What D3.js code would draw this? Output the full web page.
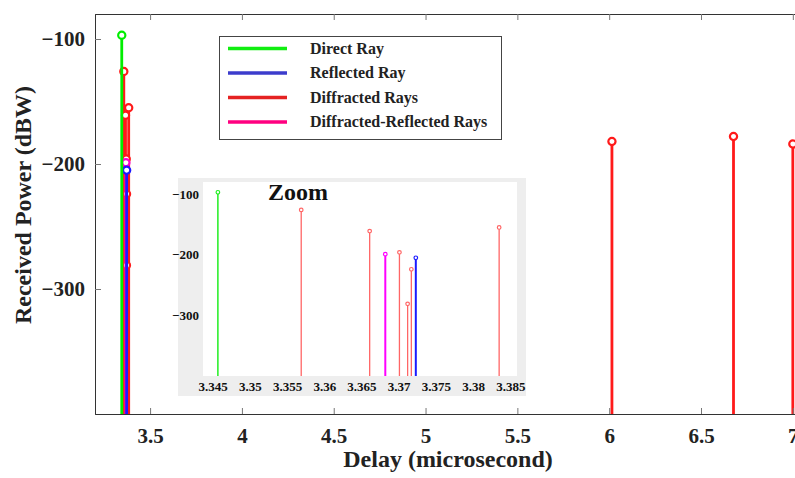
<!DOCTYPE html>
<html>
<head>
<meta charset="utf-8">
<script src="https://cdn.jsdelivr.net/npm/d3@7"></script>
<style>
  body { margin: 0; background: #fff; }
  svg { display: block; font-family: "Liberation Serif", "Times New Roman", serif; }
  .bold { font-weight: bold; }
</style>
</head>
<body>
<script>
// ray data: delay (microsecond) and received power (dBW)
var directDelay = [3.3457]
var directPower = [-97]

var reflectedDelay = [3.3723]
var reflectedPower = [-205]

var diffractedDelay = [3.3569, 3.3661, 3.3701, 3.3712, 3.3717, 3.3835, 6.015, 6.677, 7.0]
var diffractedPower = [-126, -161, -196, -281, -224, -155, -182, -178, -184]

var diffReflDelay = [3.3682]
var diffReflPower = [-199]

var xTicks = [3.5, 4, 4.5, 5, 5.5, 6, 6.5, 7]
var yTicks = [-100, -200, -300]
var zoomXTicks = [3.345, 3.35, 3.355, 3.36, 3.365, 3.37, 3.375, 3.38, 3.385]
var zoomYTicks = [-100, -200, -300]

var legendNames = ["Direct Ray", "Reflected Ray", "Diffracted Rays", "Diffracted-Reflected Rays"]

var series = [
  {name: "Diffracted Rays", delay: diffractedDelay, power: diffractedPower, color: "#ff1a1a", zcolor: "#ff6666", zw: 1.3},
  {name: "Diffracted-Reflected Rays", delay: diffReflDelay, power: diffReflPower, color: "#ff00cc", zcolor: "#ff00ff", zw: 2},
  {name: "Reflected Ray", delay: reflectedDelay, power: reflectedPower, color: "#1a1aff", zcolor: "#1a1aff", zw: 2},
  {name: "Direct Ray", delay: directDelay, power: directPower, color: "#00ee00", zcolor: "#22ee22", zw: 1.5}
]
var legendColors = {"Direct Ray": "#11ee11", "Reflected Ray": "#3c3ccc", "Diffracted Rays": "#e52222", "Diffracted-Reflected Rays": "#ff0080"}

var W = 795, H = 478
var margin = {top: 14, left: 95, bottom: 64}
var plotW = 707, plotH = H - margin.top - margin.bottom

var svg = d3.select("body").append("svg")
    .attr("width", W)
    .attr("height", H)

var x = d3.scaleLinear().domain([3.2, 7.05]).range([margin.left, margin.left + plotW])
var y = d3.scaleLinear().domain([-400, -80]).range([margin.top + plotH, margin.top])

// stems of the main plot
var main = svg.append("g")
series.forEach(function(s) {
  var pts = s.delay.map(function(d, i) { return {d: d, p: s.power[i]} })
  main.selectAll(null).data(pts).enter().append("line")
      .attr("x1", function(d) { return x(d.d) })
      .attr("x2", function(d) { return x(d.d) })
      .attr("y1", y(-400))
      .attr("y2", function(d) { return y(d.p) })
      .attr("stroke", s.color)
      .attr("stroke-width", 2.8)
  main.selectAll(null).data(pts).enter().append("circle")
      .attr("cx", function(d) { return x(d.d) })
      .attr("cy", function(d) { return y(d.p) })
      .attr("r", 3.6)
      .attr("fill", "#fff")
      .attr("stroke", s.color)
      .attr("stroke-width", 2.2)
})

// axes (box with inward ticks)
var axisColor = "#333"
var gx = svg.append("g").attr("transform", "translate(0," + y(-400) + ")")
    .call(d3.axisBottom(x).tickValues(xTicks).tickSize(-6).tickPadding(14).tickFormat(d3.format("")))
var gxt = svg.append("g").attr("transform", "translate(0," + y(-80) + ")")
    .call(d3.axisTop(x).tickValues(xTicks).tickSize(-6).tickFormat(""))
var gy = svg.append("g").attr("transform", "translate(" + x(3.2) + ",0)")
    .call(d3.axisLeft(y).tickValues(yTicks).tickSize(-6).tickPadding(10))
var gyr = svg.append("g").attr("transform", "translate(" + x(7.05) + ",0)")
    .call(d3.axisRight(y).tickValues(yTicks).tickSize(-6).tickFormat(""))
;[gx, gxt, gy, gyr].forEach(function(g) {
  g.select(".domain").attr("stroke", axisColor)
  g.selectAll(".tick line").attr("stroke", "#777")
})
gx.selectAll("text").attr("class", "bold").style("font-size", "21px").attr("fill", "#222")
    .style("font-family", "Liberation Serif")
gy.selectAll("text").attr("class", "bold").style("font-size", "21px").attr("fill", "#222")
    .style("font-family", "Liberation Serif")

svg.append("text").attr("class", "bold")
    .attr("x", 448).attr("y", 467)
    .attr("text-anchor", "middle")
    .style("font-size", "24px").attr("fill", "#222")
    .text("Delay (microsecond)")

svg.append("text").attr("class", "bold")
    .attr("transform", "translate(31,205) rotate(-90)")
    .attr("text-anchor", "middle")
    .style("font-size", "24px").attr("fill", "#222")
    .text("Received Power (dBW)")

// legend
var legend = svg.append("g")
legend.append("rect")
    .attr("x", 219.5).attr("y", 36.5).attr("width", 282).attr("height", 103)
    .attr("fill", "#fff").attr("stroke", "#444").attr("stroke-width", 1)
legendNames.forEach(function(n, i) {
  var ly = 48.5 + i * 24.5
  legend.append("line")
      .attr("x1", 228).attr("x2", 287).attr("y1", ly).attr("y2", ly)
      .attr("stroke", legendColors[n]).attr("stroke-width", 3.5)
  legend.append("text").attr("class", "bold")
      .attr("x", 310).attr("y", ly + 5)
      .style("font-size", "16px").attr("fill", "#222")
      .text(n)
})

// zoom inset
var inset = svg.append("g")
inset.append("rect")
    .attr("x", 178).attr("y", 178).attr("width", 348).attr("height", 218)
    .attr("fill", "#eeeeee")
var zx = d3.scaleLinear().domain([3.3437, 3.3859]).range([203, 517])
var zy = d3.scaleLinear().domain([-400, -80]).range([376, 182])
inset.append("rect")
    .attr("x", 203).attr("y", 182).attr("width", 314).attr("height", 194)
    .attr("fill", "#fff")

series.forEach(function(s) {
  var pts = s.delay.map(function(d, i) { return {d: d, p: s.power[i]} })
      .filter(function(d) { return d.d < 3.39 })
  inset.selectAll(null).data(pts).enter().append("line")
      .attr("x1", function(d) { return zx(d.d) })
      .attr("x2", function(d) { return zx(d.d) })
      .attr("y1", zy(-400))
      .attr("y2", function(d) { return zy(d.p) })
      .attr("stroke", s.zcolor)
      .attr("stroke-width", s.zw)
  inset.selectAll(null).data(pts).enter().append("circle")
      .attr("cx", function(d) { return zx(d.d) })
      .attr("cy", function(d) { return zy(d.p) })
      .attr("r", 1.8)
      .attr("fill", "#fff")
      .attr("stroke", s.zcolor)
      .attr("stroke-width", 1.2)
})

var zgx = inset.append("g").attr("transform", "translate(0," + zy(-400) + ")")
    .call(d3.axisBottom(zx).tickValues(zoomXTicks).tickSize(0).tickPadding(6).tickFormat(d3.format("")))
var zgy = inset.append("g").attr("transform", "translate(203,0)")
    .call(d3.axisLeft(zy).tickValues(zoomYTicks).tickSize(0).tickPadding(4))
;[zgx, zgy].forEach(function(g) {
  g.select(".domain").remove()
  g.selectAll("text").attr("class", "bold").style("font-size", "13px").attr("fill", "#111")
      .style("font-family", "Liberation Serif")
})

inset.append("text").attr("class", "bold")
    .attr("x", 268).attr("y", 200)
    .style("font-size", "24px").attr("fill", "#111")
    .text("Zoom")
</script>
</body>
</html>
